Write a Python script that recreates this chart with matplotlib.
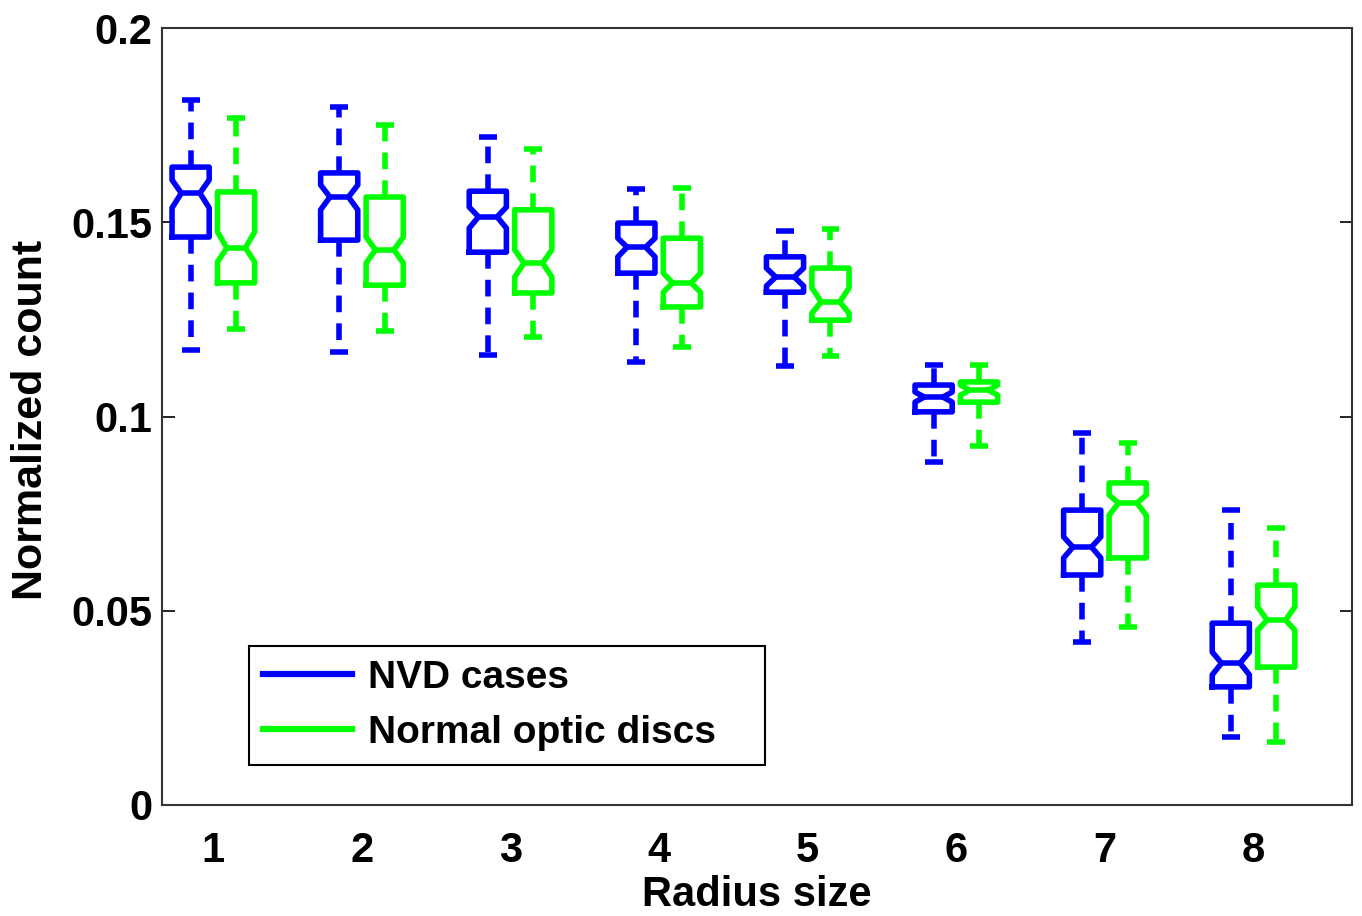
import numpy as np
import matplotlib.pyplot as plt
from matplotlib.lines import Line2D

radius = [1, 2, 3, 4, 5, 6, 7, 8]

# NVD cases: box statistics per radius size
nvd_whishi = [0.1815, 0.1797, 0.1719, 0.1586, 0.1477, 0.1133, 0.0958, 0.0759]
nvd_q3 = [0.1642, 0.1627, 0.1580, 0.1498, 0.1411, 0.1081, 0.0759, 0.0468]
nvd_cihi = [0.1609, 0.1596, 0.1539, 0.1459, 0.1382, 0.1063, 0.0690, 0.0394]
nvd_med = [0.1575, 0.1565, 0.1514, 0.1436, 0.1359, 0.1050, 0.0664, 0.0365]
nvd_cilo = [0.1537, 0.1532, 0.1485, 0.1411, 0.1336, 0.1037, 0.0636, 0.0335]
nvd_q1 = [0.1462, 0.1454, 0.1423, 0.1369, 0.1320, 0.1012, 0.0592, 0.0304]
nvd_whislo = [0.1171, 0.1166, 0.1158, 0.1140, 0.1130, 0.0883, 0.0420, 0.0175]

# normal optic discs
nor_whishi = [0.1768, 0.1750, 0.1689, 0.1588, 0.1483, 0.1133, 0.0932, 0.0713]
nor_q3 = [0.1578, 0.1565, 0.1532, 0.1459, 0.1382, 0.1089, 0.0829, 0.0566]
nor_cihi = [0.1475, 0.1462, 0.1429, 0.1369, 0.1331, 0.1081, 0.0798, 0.0510]
nor_med = [0.1434, 0.1429, 0.1395, 0.1344, 0.1295, 0.1068, 0.0777, 0.0476]
nor_cilo = [0.1398, 0.1395, 0.1359, 0.1320, 0.1266, 0.1055, 0.0746, 0.0450]
nor_q1 = [0.1344, 0.1338, 0.1318, 0.1282, 0.1248, 0.1037, 0.0636, 0.0355]
nor_whislo = [0.1225, 0.1220, 0.1205, 0.1179, 0.1156, 0.0924, 0.0458, 0.0162]

yticks = [0, 0.05, 0.1, 0.15, 0.2]
yticklabels = ["0", "0.05", "0.1", "0.15", "0.2"]

BLUE = "#0000ff"
GREEN = "#00ff00"
FS = 30

plt.rcParams["font.family"] = ["Liberation Sans", "DejaVu Sans"]
plt.rcParams["font.weight"] = "bold"


def make_stats(whislo, q1, cilo, med, cihi, q3, whishi):
    stats = []
    for i in range(len(med)):
        stats.append(dict(whislo=whislo[i], q1=q1[i], cilo=cilo[i], med=med[i],
                          cihi=cihi[i], q3=q3[i], whishi=whishi[i], fliers=[]))
    return stats


def draw(ax, stats, pos, color):
    lw = 4.0
    ax.bxp(stats, positions=pos, widths=0.25, capwidths=0.12,
           shownotches=True, showfliers=False, manage_ticks=False,
           boxprops=dict(color=color, linewidth=lw),
           medianprops=dict(color=color, linewidth=lw),
           whiskerprops=dict(color=color, linewidth=lw, linestyle=(0, (3.0, 2.0))),
           capprops=dict(color=color, linewidth=lw, solid_capstyle="butt"))


fig = plt.figure(figsize=(13.62, 9.16), dpi=100)
ax = fig.add_axes([0.119, 0.1212, 0.8737, 0.8482])

x = np.array(radius, dtype=float)
off = 0.153
draw(ax, make_stats(nvd_whislo, nvd_q1, nvd_cilo, nvd_med, nvd_cihi, nvd_q3, nvd_whishi),
     x - off, BLUE)
draw(ax, make_stats(nor_whislo, nor_q1, nor_cilo, nor_med, nor_cihi, nor_q3, nor_whishi),
     x + off, GREEN)

ax.set_xlim(0.655, 8.663)
ax.set_ylim(0, 0.2)
ax.set_xticks(x)
ax.set_xticklabels([str(r) for r in radius], fontsize=FS, fontweight="bold")
ax.set_yticks(yticks)
ax.set_yticklabels(yticklabels, fontsize=FS, fontweight="bold")
ax.tick_params(axis="y", direction="in", length=9, width=1.2, right=True, pad=7)
ax.tick_params(axis="x", length=0, pad=19)
for s in ax.spines.values():
    s.set_linewidth(1.5)
    s.set_color("#333333")

ax.set_xlabel("Radius size", fontsize=FS, fontweight="bold")
ax.set_ylabel("Normalized count", fontsize=31, fontweight="bold")
ax.xaxis.set_label_coords(0.5, -0.09)
ax.yaxis.set_label_coords(-0.093, 0.495)

handles = [Line2D([], [], color=BLUE, linewidth=4.5),
           Line2D([], [], color=GREEN, linewidth=4.5)]
leg = ax.legend(handles, ["NVD cases", "Normal optic discs"], loc="lower left",
                bbox_to_anchor=(0.073, 0.052, 0.4336, 0.15), mode="expand",
                borderaxespad=0, fancybox=False,
                edgecolor="black", framealpha=1, handlelength=2.3,
                handletextpad=0.4, borderpad=0.35, labelspacing=0.5,
                prop=dict(size=28, weight="bold"))
leg.get_frame().set_linewidth(1.5)

fig.savefig("out.png", dpi=100)
